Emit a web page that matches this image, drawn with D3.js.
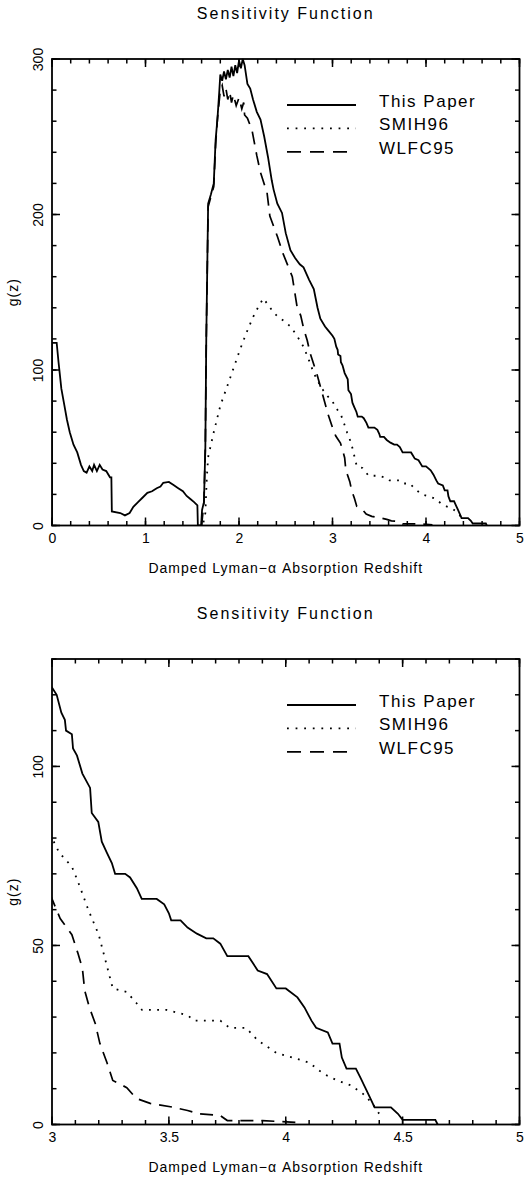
<!DOCTYPE html>
<html>
<head>
<meta charset="utf-8">
<script src="https://cdn.jsdelivr.net/npm/d3@7"></script>
<style>
  body { margin: 0; background: #fff; }
  svg { display: block; }
</style>
</head>
<body>
<svg id="chart"></svg>
<script>
// Series: [redshift z, g(z)]
const thisPaper = [
  [0, 0], [0, 117.5], [0.05, 117.5], [0.07, 105], [0.1, 88], [0.13, 78], [0.16, 68], [0.19, 60],
  [0.23, 52], [0.27, 47], [0.31, 39], [0.34, 35], [0.37, 34], [0.40, 38], [0.43, 35], [0.45, 39],
  [0.48, 35], [0.51, 39], [0.54, 36], [0.58, 35], [0.62, 31], [0.635, 31], [0.64, 9], [0.73, 8],
  [0.78, 6.5], [0.83, 8], [0.87, 12], [0.92, 15], [0.97, 18], [1.02, 21], [1.07, 22], [1.12, 24],
  [1.16, 25], [1.19, 27.5], [1.25, 28], [1.3, 26], [1.35, 24], [1.4, 22], [1.44, 19], [1.48, 17],
  [1.52, 15], [1.555, 13], [1.56, 0], [1.595, 0], [1.605, 10], [1.625, 15], [1.64, 50], [1.65, 120],
  [1.67, 207], [1.7, 213], [1.73, 220], [1.75, 248], [1.77, 262], [1.79, 280], [1.80, 290],
  [1.82, 286], [1.84, 292], [1.86, 287], [1.88, 293], [1.9, 288], [1.92, 295], [1.94, 289],
  [1.96, 296], [1.98, 291], [2.0, 299], [2.02, 294], [2.04, 300], [2.06, 296], [2.09, 284],
  [2.12, 281], [2.15, 274], [2.19, 266], [2.23, 261], [2.27, 250], [2.31, 237], [2.35, 222],
  [2.37, 216], [2.41, 207], [2.46, 201], [2.5, 188], [2.55, 177], [2.6, 172], [2.65, 168],
  [2.69, 166], [2.75, 158], [2.80, 152], [2.84, 140], [2.87, 133], [2.92, 128], [2.96, 125],
  [3.0, 122], [3.02, 120], [3.04, 115], [3.055, 113], [3.06, 110], [3.085, 109], [3.09, 105],
  [3.107, 103], [3.13, 98], [3.163, 94], [3.17, 87], [3.198, 84.5], [3.213, 79], [3.234, 76],
  [3.256, 73], [3.27, 70], [3.313, 70], [3.334, 69], [3.363, 66], [3.384, 63], [3.448, 63],
  [3.48, 61.5], [3.50, 59], [3.51, 57], [3.55, 57], [3.58, 55], [3.62, 53.3], [3.66, 52],
  [3.69, 52], [3.72, 50.5], [3.75, 47], [3.84, 47], [3.86, 45], [3.88, 43], [3.92, 42],
  [3.96, 38], [4.0, 38], [4.05, 35.5], [4.08, 32.7], [4.11, 29], [4.13, 27], [4.18, 25.7],
  [4.2, 22.6], [4.23, 22.6], [4.24, 18.7], [4.26, 15.6], [4.30, 15.6], [4.32, 13], [4.34, 10.3],
  [4.36, 7.6], [4.38, 4.8], [4.45, 4.8], [4.48, 3], [4.5, 1.3], [4.64, 1.3], [4.65, 0]
];

const smih96 = [
  [1.62, 2], [1.64, 8], [1.655, 30], [1.67, 44], [1.73, 60], [1.8, 77], [1.9, 94], [2.01, 113],
  [2.08, 124], [2.15, 134], [2.21, 141], [2.26, 146], [2.31, 142], [2.37, 137], [2.42, 134],
  [2.47, 132], [2.55, 128], [2.62, 122], [2.69, 115], [2.75, 106], [2.8, 98], [2.85, 92],
  [2.9, 87], [2.95, 83], [3.0, 80], [3.03, 76], [3.085, 72], [3.11, 68], [3.13, 64.5],
  [3.155, 60], [3.2, 53], [3.22, 48], [3.24, 43], [3.26, 38], [3.32, 37], [3.36, 34],
  [3.385, 32], [3.49, 32], [3.58, 30.5], [3.61, 29], [3.72, 29], [3.76, 27], [3.83, 27],
  [3.88, 23.5], [3.96, 20], [4.03, 18.7], [4.1, 17.3], [4.16, 14.2], [4.22, 12.3], [4.28, 10.9],
  [4.33, 8.6], [4.37, 5.9], [4.4, 3]
];

const wlfc95 = [
  [1.6, 0], [1.625, 15], [1.64, 50], [1.65, 120], [1.67, 205], [1.73, 218], [1.75, 245],
  [1.77, 262], [1.8, 280], [1.82, 283], [1.84, 276], [1.86, 281], [1.88, 274], [1.9, 279],
  [1.92, 272], [1.94, 277], [1.97, 270], [2.0, 275], [2.03, 268], [2.05, 272], [2.06, 264],
  [2.09, 262], [2.14, 254], [2.19, 238], [2.23, 227], [2.3, 214], [2.33, 199], [2.41, 186],
  [2.47, 175], [2.53, 166], [2.57, 160], [2.62, 141], [2.66, 135], [2.69, 127], [2.73, 119],
  [2.76, 111], [2.84, 96], [2.9, 83], [2.95, 72], [3.0, 63], [3.035, 57.5], [3.085, 53],
  [3.11, 48], [3.13, 43.6], [3.14, 37.4], [3.16, 32.7], [3.185, 28.2], [3.205, 22.6],
  [3.235, 17.3], [3.26, 12.3], [3.32, 10.3], [3.36, 7.3], [3.42, 5.9], [3.52, 4.8], [3.58, 3.9],
  [3.63, 3], [3.72, 2.5], [3.75, 1.1], [3.9, 1.1], [4.06, 0.5], [4.06, 0]
];

const seriesNames = ["This Paper", "SMIH96", "WLFC95"];

// Tick labels
const topXTicks = [0, 1, 2, 3, 4, 5];
const topYTicks = [0, 100, 200, 300];
const botXTicks = [3, 3.5, 4, 4.5, 5];
const botYTicks = [0, 50, 100];

const chartTitle = "Sensitivity Function";
const xTitle = "Damped Lyman\u2212\u03b1 Absorption Redshift";
const yTitle = "g(z)";

// Layout
const width = 524, height = 1177;
const left = 52, right = 519.5;
const fontFamily = "'Liberation Sans', Arial, Helvetica, sans-serif";
const tickColor = "#000";

const styles = [
  { dash: null, width: 1.8, legendDash: null },
  { dash: "1.8,6.4", width: 1.8, legendDash: "1.8,6.8" },
  { dash: "13,8", width: 1.7, legendDash: "14,9" }
];

const panels = [
  { id: "p1", top: 59, bottom: 525.5, xDomain: [0, 5], yDomain: [0, 300],
    xTicks: topXTicks, yTicks: topYTicks, xMinor: 25, yMinor: 15 },
  { id: "p2", top: 659, bottom: 1124.5, xDomain: [3, 5], yDomain: [0, 130],
    xTicks: botXTicks, yTicks: botYTicks, xMinor: 20, yMinor: 13 }
];

const svg = d3.select("#chart")
  .attr("width", width)
  .attr("height", height)
  .style("font-family", fontFamily);

const defs = svg.append("defs");

panels.forEach(p => {
  const x = d3.scaleLinear().domain(p.xDomain).range([left, right]);
  const y = d3.scaleLinear().domain(p.yDomain).range([p.bottom, p.top]);
  const g = svg.append("g");

  defs.append("clipPath").attr("id", "clip-" + p.id)
    .append("rect")
    .attr("x", left).attr("y", p.top - 1)
    .attr("width", right - left).attr("height", p.bottom - p.top + 1);

  const lineGen = d3.line()
    .x(d => x(d[0]))
    .y(d => y(d[1]));

  // curves
  const curves = g.append("g").attr("clip-path", `url(#clip-${p.id})`);
  [thisPaper, smih96, wlfc95].forEach((s, i) => {
    curves.append("path")
      .datum(s)
      .attr("d", lineGen)
      .attr("fill", "none")
      .attr("stroke", "#000")
      .attr("stroke-width", styles[i].width)
      .attr("stroke-dasharray", styles[i].dash);
  });

  // frame
  g.append("rect")
    .attr("x", left).attr("y", p.top)
    .attr("width", right - left).attr("height", p.bottom - p.top)
    .attr("fill", "none")
    .attr("stroke", "#000")
    .attr("stroke-width", 1.8);

  // tick marks, inward on all four sides
  const xMinorVals = x.ticks(p.xMinor);
  const yMinorVals = y.ticks(p.yMinor);
  const tickSpecs = [];
  xMinorVals.forEach(v => tickSpecs.push({ x1: x(v), y1: p.bottom, x2: x(v), y2: p.bottom - 4.5 },
                                          { x1: x(v), y1: p.top, x2: x(v), y2: p.top + 4.5 }));
  p.xTicks.forEach(v => tickSpecs.push({ x1: x(v), y1: p.bottom, x2: x(v), y2: p.bottom - 8 },
                                       { x1: x(v), y1: p.top, x2: x(v), y2: p.top + 8 }));
  yMinorVals.forEach(v => tickSpecs.push({ x1: left, y1: y(v), x2: left + 4.5, y2: y(v) },
                                          { x1: right, y1: y(v), x2: right - 4.5, y2: y(v) }));
  p.yTicks.forEach(v => tickSpecs.push({ x1: left, y1: y(v), x2: left + 8, y2: y(v) },
                                       { x1: right, y1: y(v), x2: right - 8, y2: y(v) }));

  svg.append("g")
    .selectAll("line")
    .data(tickSpecs)
    .join("line")
    .attr("x1", d => d.x1).attr("y1", d => d.y1)
    .attr("x2", d => d.x2).attr("y2", d => d.y2)
    .attr("stroke", tickColor)
    .attr("stroke-width", 1.5);

  // tick labels through d3 axes
  const xAxis = g.append("g").attr("transform", `translate(0,${p.bottom})`)
    .call(d3.axisBottom(x).tickValues(p.xTicks).tickSize(0).tickPadding(7.5).tickFormat(d3.format("~g")));
  const yAxis = g.append("g").attr("transform", `translate(${left},0)`)
    .call(d3.axisLeft(y).tickValues(p.yTicks).tickSize(0).tickFormat(d3.format("~g")));

  [xAxis, yAxis].forEach(a => {
    a.attr("font-family", fontFamily).attr("font-size", 14);
    a.select(".domain").remove();
    a.selectAll(".tick line").remove();
    a.selectAll(".tick text").attr("fill", "#000");
  });

  // rotated y tick labels
  yAxis.selectAll(".tick text")
    .attr("x", null).attr("y", null).attr("dy", null)
    .attr("text-anchor", "middle")
    .attr("transform", "translate(-9,0) rotate(-90)");

  // titles
  g.append("text")
    .attr("x", (left + right) / 2)
    .attr("y", p.top - 40)
    .attr("text-anchor", "middle")
    .style("font-size", "16px")
    .style("letter-spacing", "2px")
    .text(chartTitle);

  g.append("text")
    .attr("x", (left + right) / 2)
    .attr("y", p.bottom + 47)
    .attr("text-anchor", "middle")
    .style("font-size", "14px")
    .style("letter-spacing", "1px")
    .text(xTitle);

  g.append("text")
    .attr("transform", `translate(18,${(p.top + p.bottom) / 2}) rotate(-90)`)
    .attr("text-anchor", "middle")
    .style("font-size", "14px")
    .style("letter-spacing", "1px")
    .text(yTitle);

  // legend
  const legend = g.append("g");
  seriesNames.forEach((name, i) => {
    const ly = p.top + 46 + i * 23.4;
    legend.append("line")
      .attr("x1", 287).attr("x2", 356)
      .attr("y1", ly).attr("y2", ly)
      .attr("stroke", "#000")
      .attr("stroke-width", styles[i].width)
      .attr("stroke-dasharray", styles[i].legendDash);
    legend.append("text")
      .attr("x", 379)
      .attr("y", ly + 2)
      .style("font-size", "17px")
      .style("letter-spacing", "1.5px")
      .text(name);
  });
});
</script>
</body>
</html>
